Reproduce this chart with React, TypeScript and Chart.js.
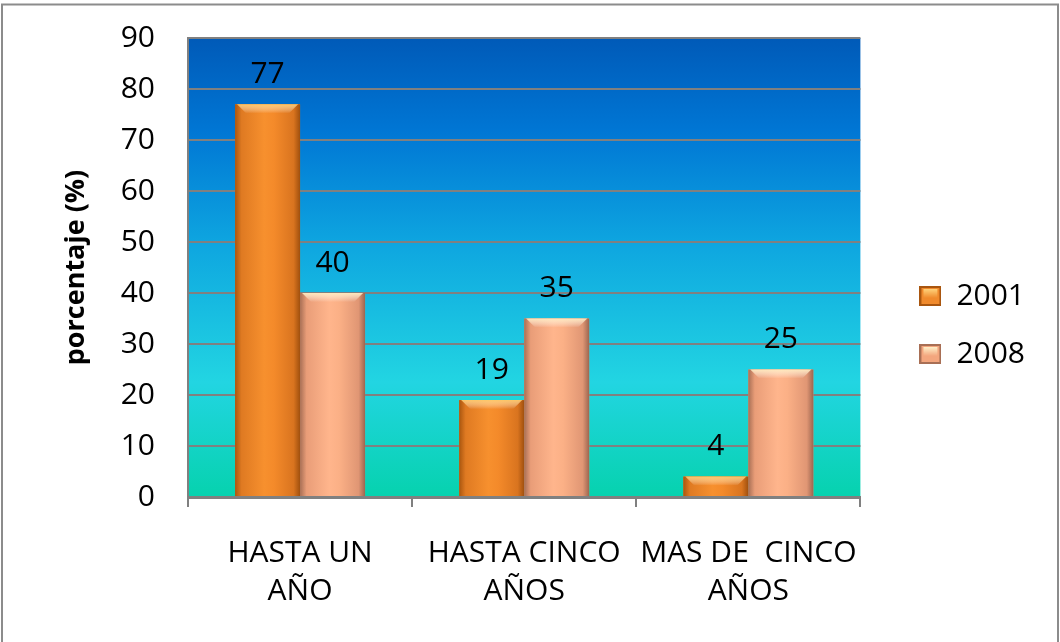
import React, { useEffect, useRef } from "react";
import { Chart, registerables } from "chart.js";

Chart.register(...registerables);

const categories: string[][] = [
  ["HASTA UN", "AÑO"],
  ["HASTA CINCO", "AÑOS"],
  ["MAS DE  CINCO", "AÑOS"],
];
const seriesNames = ["2001", "2008"];
const values2001 = [77, 19, 4];
const values2008 = [40, 35, 25];
const yTitle = "porcentaje (%)";
const yMin = 0;
const yMax = 90;
const yStep = 10;

const FONT = "'Open Sans', 'DejaVu Sans', sans-serif";

const baseColors = ["#f08a2c", "#f3a67e"];
const barStyles = [
  { stops: ["#a9560f", "#df7a22", "#f7902e", "#f48a2a", "#d9741f", "#a0500e"], bevel: "rgba(255,205,110,0.9)", edge: "#a9560f", light: "#ffd27a" },
  { stops: ["#a86f55", "#e99d78", "#ffb58c", "#fbb086", "#e09674", "#9c6650"], bevel: "rgba(255,235,190,0.95)", edge: "#a86f55", light: "#fff0c8" },
];

function makeMarker(i: number): HTMLCanvasElement {
  const c = document.createElement("canvas");
  c.width = 22;
  c.height = 20;
  const x = c.getContext("2d")!;
  const st = barStyles[i];
  x.fillStyle = st.edge;
  x.fillRect(0, 0, 22, 20);
  x.fillStyle = baseColors[i];
  x.fillRect(2, 2, 18, 16);
  const g = x.createLinearGradient(0, 3, 0, 12);
  g.addColorStop(0, st.light);
  g.addColorStop(1, baseColors[i]);
  x.fillStyle = g;
  x.fillRect(4, 3, 14, 9);
  return c;
}

const bgPlugin = {
  id: "bgPlugin",
  beforeDraw(chart: any) {
    const { ctx, chartArea: a } = chart;
    ctx.save();
    const g = ctx.createLinearGradient(0, a.top, 0, a.bottom);
    g.addColorStop(0, "#005ab8");
    g.addColorStop(0.2, "#0076d4");
    g.addColorStop(0.45, "#0ea6e0");
    g.addColorStop(0.75, "#22d5e2");
    g.addColorStop(1, "#06d2ae");
    ctx.fillStyle = g;
    ctx.fillRect(a.left, a.top, a.right - a.left, a.bottom - a.top);
    ctx.strokeStyle = "#8c8c8c";
    ctx.lineWidth = 2;
    ctx.strokeRect(2, 4.5, 1056, 700);
    ctx.restore();
  },
};

const barLookPlugin = {
  id: "barLook",
  afterDatasetsDraw(chart: any) {
    const { ctx } = chart;
    ctx.save();
    chart.data.datasets.forEach((ds: any, di: number) => {
      const meta = chart.getDatasetMeta(di);
      const st = barStyles[di];
      meta.data.forEach((el: any, i: number) => {
        const { x, y, base, width } = el.getProps(["x", "y", "base", "width"], true);
        const l = x - width / 2;
        const r = x + width / 2;
        const g = ctx.createLinearGradient(l, 0, r, 0);
        const pos = [0, 0.1, 0.45, 0.6, 0.9, 1];
        st.stops.forEach((c: string, k: number) => g.addColorStop(pos[k], c));
        ctx.fillStyle = g;
        ctx.fillRect(l, y, width, base - y);
        const bv = Math.min(9, (base - y) / 2);
        const tg = ctx.createLinearGradient(0, y, 0, y + bv);
        tg.addColorStop(0, st.bevel);
        tg.addColorStop(1, "rgba(255,255,255,0)");
        ctx.fillStyle = tg;
        ctx.beginPath();
        ctx.moveTo(l + 2, y);
        ctx.lineTo(r - 2, y);
        ctx.lineTo(r - 2 - bv, y + bv);
        ctx.lineTo(l + 2 + bv, y + bv);
        ctx.closePath();
        ctx.fill();
        ctx.fillStyle = "#000";
        ctx.font = `30px ${FONT}`;
        ctx.textAlign = "center";
        ctx.textBaseline = "middle";
        ctx.fillText(String(ds.data[i]), x, y - 30);
      });
    });
    ctx.restore();
  },
};

export default function App() {
  const ref = useRef<HTMLCanvasElement | null>(null);
  useEffect(() => {
    const canvas = ref.current;
    if (!canvas) return;
    const markers = [makeMarker(0), makeMarker(1)];
    const chart = new Chart(canvas, {
      type: "bar",
      data: {
        labels: categories,
        datasets: [
          { label: seriesNames[0], data: values2001, backgroundColor: baseColors[0], borderWidth: 0 },
          { label: seriesNames[1], data: values2008, backgroundColor: baseColors[1], borderWidth: 0 },
        ],
      },
      options: {
        responsive: false,
        animation: false,
        devicePixelRatio: 1,
        layout: { padding: { top: 38, bottom: 30, left: 0, right: 25 } },
        datasets: { bar: { barPercentage: 1.0, categoryPercentage: 0.58 } },
        plugins: {
          tooltip: { enabled: false },
          legend: {
            position: "right",
            labels: {
              font: { family: FONT, size: 30 },
              color: "#000",
              boxWidth: 22,
              boxHeight: 20,
              padding: 28,
              usePointStyle: true,
              pointStyleWidth: 22,
              generateLabels: (chart: any) =>
                chart.data.datasets.map((ds: any, i: number) => ({
                  text: ds.label,
                  fillStyle: baseColors[i],
                  strokeStyle: barStyles[i].edge,
                  lineWidth: 0,
                  pointStyle: markers[i],
                  hidden: false,
                  datasetIndex: i,
                  fontColor: "#000",
                })),
            },
          },
        },
        scales: {
          x: {
            type: "category",
            afterFit: (s: any) => {
              s.height = 115;
              s.paddingLeft = 0;
              s.paddingRight = 0;
            },
            grid: {
              display: true,
              offset: true,
              drawOnChartArea: false,
              drawTicks: true,
              tickLength: 10,
              color: "#808080",
              lineWidth: 2,
            },
            border: { display: true, color: "#808080", width: 3 },
            ticks: {
              color: "#000",
              font: { family: FONT, size: 30, lineHeight: 1.27 },
              padding: 27,
              maxRotation: 0,
              autoSkip: false,
            },
          },
          y: {
            type: "linear",
            min: yMin,
            max: yMax,
            afterFit: (s: any) => {
              s.width = 188;
              s.paddingTop = 0;
              s.paddingBottom = 0;
            },
            grid: { color: "#808080", lineWidth: 2, drawTicks: false },
            border: { display: true, color: "#808080", width: 2 },
            ticks: {
              stepSize: yStep,
              color: "#000",
              font: { family: FONT, size: 30 },
              padding: 33,
            },
            title: {
              display: true,
              text: yTitle,
              color: "#000",
              font: { family: FONT, size: 27, weight: "bold" },
              padding: { top: 60, bottom: 0 },
            },
          },
          yFill: {
            type: "linear",
            position: "right",
            display: true,
            afterFit: (s: any) => {
              s.width = 31;
              s.paddingTop = 0;
              s.paddingBottom = 0;
            },
            grid: { display: false, drawTicks: false },
            border: { display: false },
            ticks: { display: false },
          },
        },
      },
      plugins: [bgPlugin, barLookPlugin],
    } as any);
    return () => chart.destroy();
  }, []);
  return (
    <div style={{ position: "fixed", left: 0, top: 0, width: 1060, height: 642, background: "#fff" }}>
      <canvas ref={ref} width={1060} height={642} style={{ width: 1060, height: 642, display: "block" }} />
    </div>
  );
}
